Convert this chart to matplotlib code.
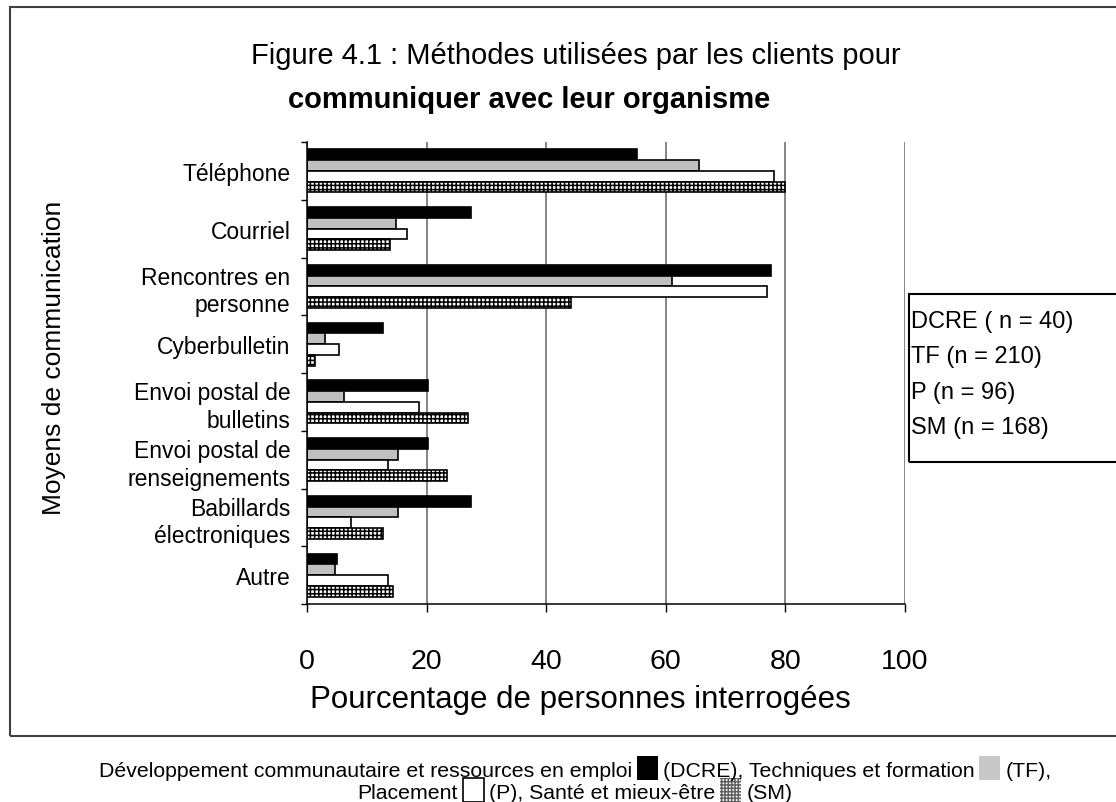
import numpy as np
import matplotlib
matplotlib.use("Agg")
import matplotlib.pyplot as plt
from matplotlib.patches import Rectangle

plt.rcParams['font.family'] = ['Liberation Sans', 'DejaVu Sans']
plt.rcParams['hatch.linewidth'] = 1.1

# data
categories = ["Téléphone", "Courriel", "Rencontres en\npersonne", "Cyberbulletin",
              "Envoi postal de\nbulletins", "Envoi postal de\nrenseignements",
              "Babillards\nélectroniques", "Autre"]
dcre = [55.2, 27.5, 77.6, 12.7, 20.2, 20.2, 27.5, 5.1]
tf = [65.5, 14.9, 61.0, 3.0, 6.2, 15.2, 15.2, 4.7]
p = [78.1, 16.7, 76.9, 5.3, 18.7, 13.5, 7.4, 13.5]
sm = [80.0, 13.8, 44.1, 1.3, 26.9, 23.4, 12.7, 14.4]
legend_lines = ["DCRE ( n = 40)", "TF (n = 210)", "P (n = 96)", "SM (n = 168)"]

W, H = 1116, 803
fig = plt.figure(figsize=(W / 100, H / 100), dpi=100)

def fx(px):
    return px / W

def fy(py):
    return 1 - py / H

ax = fig.add_axes([fx(307), fy(605), fx(905 - 307), (605 - 143) / H])

y = np.arange(len(categories))
h = 0.187
ax.barh(y - 1.5 * h, dcre, height=h, color='black', edgecolor='black', lw=1.2)
ax.barh(y - 0.5 * h, tf, height=h, color='#c0c0c0', edgecolor='black', lw=1.2)
ax.barh(y + 0.5 * h, p, height=h, color='white', edgecolor='black', lw=1.2)
ax.barh(y + 1.5 * h, sm, height=h, color='white', edgecolor='black', lw=1.2,
        hatch='++++')

ax.set_xlim(0, 100)
ax.set_ylim(len(categories) - 0.5, -0.5)
ax.set_xticks(range(0, 101, 20))
ax.tick_params(axis='x', labelsize=20.5, length=6, width=1, pad=26, direction='out')
ax.set_yticks(y)
ax.set_yticklabels(categories, fontsize=16.5, linespacing=1.25)
ax.tick_params(axis='y', length=0, pad=12)
ax.set_yticks(np.arange(-0.5, len(categories)), minor=True)
ax.tick_params(axis='y', which='minor', length=4, width=1)
ax.grid(axis='x', color='#707070', lw=1.2)
ax.set_axisbelow(True)
for s in ['top', 'right']:
    ax.spines[s].set_visible(False)
for s in ['left', 'bottom']:
    ax.spines[s].set_linewidth(1.1)

fig.text(fx(580), fy(700), "Pourcentage de personnes interrogées", fontsize=22.5,
         ha='center', va='center')
fig.text(fx(54), fy(358), "Moyens de communication", fontsize=19, rotation=90,
         ha='center', va='center')

# title
fig.text(fx(576), fy(56), "Figure 4.1 : Méthodes utilisées par les clients pour",
         fontsize=21, ha='center', va='center')
fig.text(fx(288), fy(100), "communiquer avec leur organisme", fontsize=21,
         fontweight='bold', ha='left', va='center')

# outer frame and legend box
fig.add_artist(Rectangle((fx(10), fy(737)), 1.2, (737 - 8) / H, transform=fig.transFigure,
                         fill=False, edgecolor='#404040', lw=1.5))
fig.add_artist(Rectangle((fx(909), fy(463)), 0.3, (463 - 295) / H, transform=fig.transFigure,
                         fill=False, edgecolor='black', lw=1.5))
for i, line in enumerate(legend_lines):
    fig.text(fx(911), fy(322 + i * 35.5), line, fontsize=17, ha='left', va='center')

# footer with colour swatches
renderer = fig.canvas.get_renderer()

def footer_line(segs, base_px, fs=15.3):
    sizes = []
    for kind, val in segs:
        if kind == 'text':
            t = fig.text(0, 0, val, fontsize=fs)
            sizes.append(t.get_window_extent(renderer).width)
            t.remove()
        else:
            sizes.append(21)
    gap = 5
    total = sum(sizes) + gap * (len(segs) - 1)
    x = 575 - total / 2
    for (kind, val), w in zip(segs, sizes):
        if kind == 'text':
            fig.text(fx(x), fy(base_px), val, fontsize=fs, ha='left', va='baseline')
        else:
            box = dict(transform=fig.transFigure)
            xy = (fx(x), fy(base_px + 4))
            if val == 'black':
                r = Rectangle(xy, fx(w), 24 / H, facecolor='black', edgecolor='none', **box)
            elif val == 'gray':
                r = Rectangle(xy, fx(w), 24 / H, facecolor='#c8c8c8', edgecolor='none', **box)
            elif val == 'white':
                r = Rectangle(xy, fx(w), 24 / H, facecolor='white', edgecolor='black', lw=1.2, **box)
            else:
                r = Rectangle(xy, fx(w), 24 / H, facecolor='white', edgecolor='#606060', lw=0,
                              hatch='+++++', **box)
            fig.add_artist(r)
        x += w + gap

footer_line([('text', "Développement communautaire et ressources en emploi"), ('sw', 'black'),
             ('text', "(DCRE), Techniques et formation"), ('sw', 'gray'), ('text', "(TF),")], 777)
footer_line([('text', "Placement"), ('sw', 'white'), ('text', "(P), Santé et mieux-être"),
             ('sw', 'check'), ('text', "(SM)")], 799)

fig.savefig("out.png", dpi=100)
